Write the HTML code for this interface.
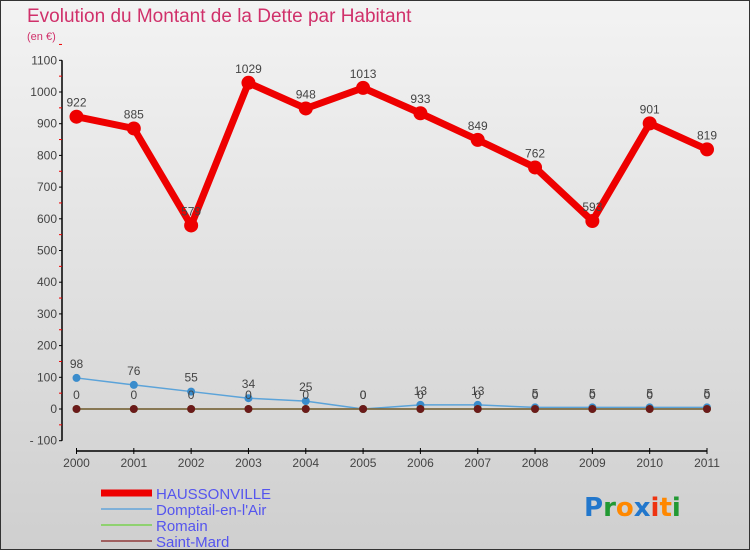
<!DOCTYPE html>
<html><head><meta charset="utf-8"><style>
body{margin:0;}
#wrap{width:750px;height:550px;position:relative;overflow:hidden;font-family:"Liberation Sans",sans-serif;background:linear-gradient(#f3f3f3,#cfcfcf);box-sizing:border-box;border:1px solid #333;}
</style></head><body>
<div id="wrap">
<svg id="chart" width="750" height="550"></svg>
</div>
<script>
const years=["2000","2001","2002","2003","2004","2005","2006","2007","2008","2009","2010","2011"];
const hausson=[922,885,579,1029,948,1013,933,849,762,593,901,819];
const domptail=[98,76,55,34,25,0,13,13,5,5,5,5];
const romain=[0,0,0,0,0,0,0,0,0,0,0,0];
const saintMard=[0,0,0,0,0,0,0,0,0,0,0,0];
const yTicks=[-100,0,100,200,300,400,500,600,700,800,900,1000,1100];
const NS="http://www.w3.org/2000/svg";
const svg=document.getElementById('chart');
function X(i){return 75.5+i*(706-75.5)/11;}
function Y(v){return 408-v*0.317;}
function mk(t,a,p){const e=document.createElementNS(NS,t);for(const k in a)e.setAttribute(k,a[k]);(p||svg).appendChild(e);return e;}
function txt(x,y,s,a){const e=mk('text',Object.assign({x:x,y:y},a));e.textContent=s;return e;}
let t=txt(26,21,"Evolution du Montant de la Dette par Habitant",{fill:"#d0306a","font-size":19});

t=txt(26,39,"(en €)",{fill:"#d0306a","font-size":11});

// axes
let ax=mk('line',{x1:61,y1:Y(1100),x2:61,y2:Y(-100),stroke:"#000","stroke-width":1.5});

yTicks.forEach(v=>{const l=mk('line',{x1:58,x2:61,y1:Y(v),y2:Y(v),stroke:"#000"});

const m=mk('line',{x1:58,x2:61,y1:Y(v+50),y2:Y(v+50),stroke:"#e00"});

const tl=txt(56,Y(v)+4,v<0?"- "+(-v):String(v),{"text-anchor":"end","font-size":12,fill:"#444"});
});
ax=mk('line',{x1:X(0),y1:450,x2:X(11),y2:450,stroke:"#000","stroke-width":1.5});

years.forEach((y,i)=>{const l=mk('line',{x1:X(i),x2:X(i),y1:447,y2:453,stroke:"#000"});

const tl=txt(X(i),466,y,{"text-anchor":"middle","font-size":12,fill:"#444"});
});
function series(vals,color,w,r,name,labels,lcol){
const g=mk('g',{});
const p=mk('polyline',{points:vals.map((v,i)=>X(i)+","+Y(v)).join(" "),fill:"none",stroke:color,"stroke-width":w,"stroke-linejoin":"round"},g);

vals.forEach((v,i)=>{const c=mk('circle',{cx:X(i),cy:Y(v),r:r,fill:lcol||color},g);

if(labels){const tl=txt(X(i),Y(v)-10,String(v),{"text-anchor":"middle","font-size":12,fill:"#444"},g);
}});}
series(domptail,"#5ba3d9",1.5,4,"domptail",true,"#3a8ccc");
series(romain,"#8fd170",1.5,4,"romain",false);
series(saintMard,"#7a5a3a",1.5,4,"saint-mard",true,"#6b1a1a");
series(hausson,"#ee0000",7,7,"haussonville",true);
// legend
const leg=[["HAUSSONVILLE","#ee0000",7],["Domptail-en-l'Air","#7fb0d8",2],["Romain","#8fd170",2],["Saint-Mard","#a06060",2]];
leg.forEach((d,i)=>{const y=492+i*16;
const l=mk('line',{x1:100,x2:151,y1:y,y2:y,stroke:d[1],"stroke-width":d[2]});

const tl=txt(155,y+6,d[0],{"font-size":15,fill:"#5555ee"});
});
const logo=mk('text',{x:583,y:515,"font-size":26,"font-family":"DejaVu Sans, sans-serif","font-weight":"bold"});

[["P","#2277cc"],["r","#229933"],["o","#ff8800"],["x","#2277cc"],["i","#ee3311"],["t","#ff8800"],["i","#229933"]].forEach(c=>{const s=mk('tspan',{fill:c[1]},logo);s.textContent=c[0];});
</script>
</body></html>
